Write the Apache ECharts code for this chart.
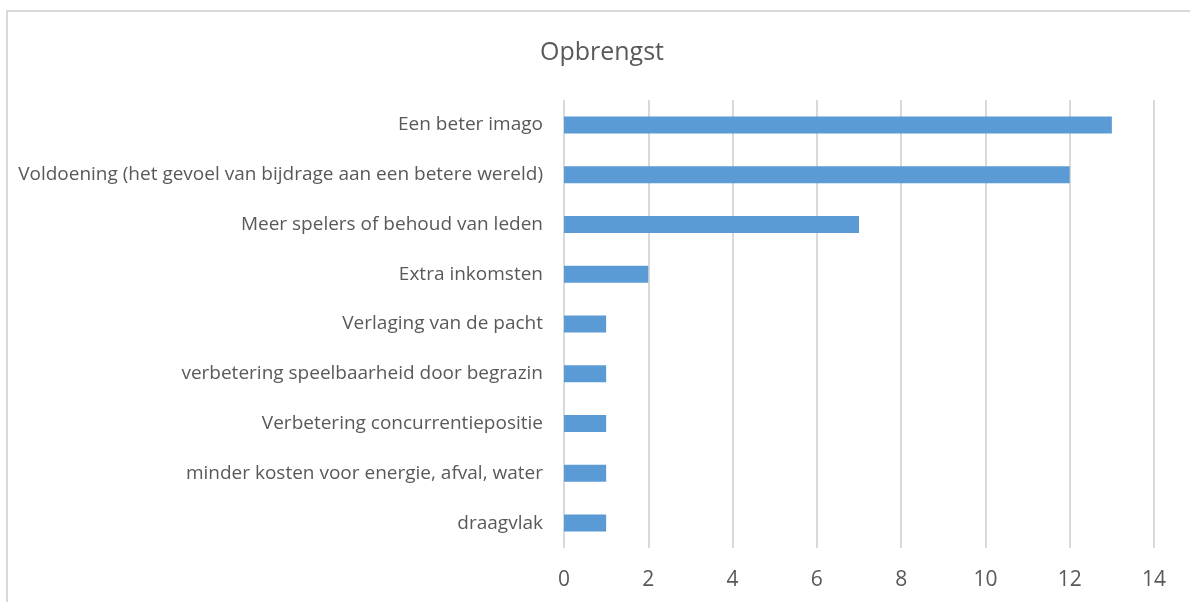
<!DOCTYPE html>
<html>
<head>
<meta charset="utf-8">
<script src="https://cdn.jsdelivr.net/npm/echarts@6/dist/echarts.min.js"></script>
<style>
  html, body { margin: 0; padding: 0; background: #fff; }
  #main { width: 1190px; height: 602px; }
</style>
</head>
<body>
<div id="main"></div>
<script>
// categories from top to bottom
const categories = [
  'Een beter imago',
  'Voldoening (het gevoel van bijdrage aan een betere wereld)',
  'Meer spelers of behoud van leden',
  'Extra inkomsten',
  'Verlaging van de pacht',
  'verbetering speelbaarheid door begrazin',
  'Verbetering concurrentiepositie',
  'minder kosten voor energie, afval, water',
  'draagvlak'
];
const values = [13, 12, 7, 2, 1, 1, 1, 1, 1];
const xTicks = [0, 2, 4, 6, 8, 10, 12, 14];

const textColor = '#595959';
const fontFam = '"Open Sans", sans-serif';

var myChart = echarts.init(document.getElementById('main'));

let option = {
  animation: false,
  title: {
    text: 'Opbrengst',
    left: 535,
    top: 35,
    textStyle: {
      color: textColor,
      fontSize: 25,
      fontWeight: 'normal',
      fontFamily: fontFam
    }
  },
  graphic: [{
    type: 'rect',
    shape: { x: 7, y: 11, width: 1200, height: 700 },
    style: { fill: 'none', stroke: '#d9d9d9', lineWidth: 2 },
    silent: true
  }],
  grid: {
    left: 564,
    right: 36,
    top: 100,
    bottom: 54
  },
  xAxis: {
    type: 'value',
    min: xTicks[0],
    max: xTicks[xTicks.length - 1],
    interval: 2,
    axisLine: { show: false },
    axisTick: { show: false },
    axisLabel: {
      color: textColor,
      fontSize: 21,
      fontFamily: fontFam,
      margin: 22
    },
    splitLine: {
      lineStyle: { color: '#d9d9d9', width: 2 }
    }
  },
  yAxis: {
    type: 'category',
    inverse: true,
    data: categories,
    axisLine: { show: false },
    axisTick: { show: false },
    axisLabel: {
      color: textColor,
      fontSize: 19,
      fontFamily: fontFam,
      margin: 21
    }
  },
  series: [{
    name: 'Opbrengst',
    type: 'bar',
    data: values,
    barWidth: 17,
    itemStyle: { color: '#5b9bd5' }
  }]
};

myChart.setOption(option);
</script>
</body>
</html>
